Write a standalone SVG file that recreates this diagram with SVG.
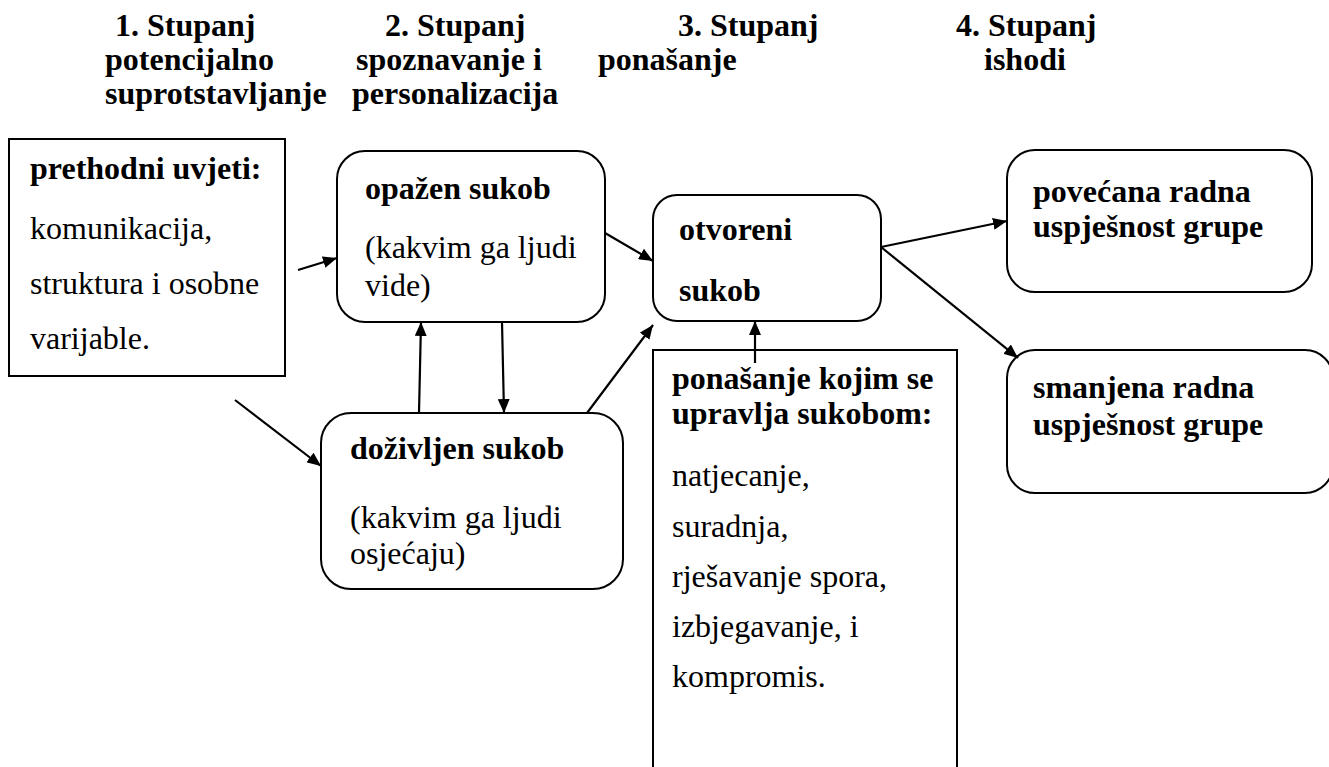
<svg xmlns="http://www.w3.org/2000/svg" width="1329" height="767" viewBox="0 0 1329 767">
<defs>
<style>
.t{font-family:'Liberation Serif','Times New Roman',serif;font-size:32px;fill:#000}
.b{font-weight:bold}
.box{fill:#fff;stroke:#000;stroke-width:2}
.c{stroke:#000;stroke-width:2.2;fill:none;marker-end:url(#ah)}
</style>
<marker id="ah" markerUnits="userSpaceOnUse" markerWidth="14" markerHeight="12" refX="14" refY="6" orient="auto">
<path d="M0,0 L14,6 L0,12 z" fill="#000"/>
</marker>
</defs>
<rect width="1329" height="767" fill="#fff"/>
<g id="header">
<text class="t b" x="115" y="36">1. Stupanj</text>
<text class="t b" x="105" y="70">potencijalno</text>
<text class="t b" x="105" y="104">suprotstavljanje</text>
<text class="t b" x="385" y="36">2. Stupanj</text>
<text class="t b" x="356" y="70">spoznavanje i</text>
<text class="t b" x="352" y="104">personalizacija</text>
<text class="t b" x="678" y="36">3. Stupanj</text>
<text class="t b" x="598" y="70">ponašanje</text>
<text class="t b" x="956" y="36">4. Stupanj</text>
<text class="t b" x="984" y="70">ishodi</text>
</g>
<g id="prethodni">
<rect class="box" x="9" y="139" width="276" height="237"/>
<text class="t b" x="30" y="179">prethodni uvjeti:</text>
<text class="t" x="30" y="239">komunikacija,</text>
<text class="t" x="30" y="294">struktura i osobne</text>
<text class="t" x="30" y="349">varijable.</text>
</g>
<g id="opazen">
<rect class="box" x="337" y="151" width="268" height="171" rx="28"/>
<text class="t b" x="365" y="199">opažen sukob</text>
<text class="t" x="365" y="258">(kakvim ga ljudi</text>
<text class="t" x="365" y="296">vide)</text>
</g>
<g id="dozivljen">
<rect class="box" x="321" y="413" width="302" height="176" rx="30"/>
<text class="t b" x="350" y="459">doživljen sukob</text>
<text class="t" x="350" y="528">(kakvim ga ljudi</text>
<text class="t" x="350" y="564">osjećaju)</text>
</g>
<g id="otvoreni">
<rect class="box" x="653" y="195" width="228" height="126" rx="24"/>
<text class="t b" x="679" y="240">otvoreni</text>
<text class="t b" x="679" y="301">sukob</text>
</g>
<g id="ponasanje">
<path class="box" d="M653,770 V350 H957 V770"/>
<text class="t b" x="672" y="389">ponašanje kojim se</text>
<text class="t b" x="672" y="424">upravlja sukobom:</text>
<text class="t" x="672" y="486">natjecanje,</text>
<text class="t" x="672" y="537">suradnja,</text>
<text class="t" x="672" y="587">rješavanje spora,</text>
<text class="t" x="672" y="637">izbjegavanje, i</text>
<text class="t" x="672" y="687">kompromis.</text>
</g>
<g id="povecana">
<rect class="box" x="1007" y="150" width="305" height="142" rx="28"/>
<text class="t b" x="1033" y="202">povećana radna</text>
<text class="t b" x="1033" y="237">uspješnost grupe</text>
</g>
<g id="smanjena">
<rect class="box" x="1007" y="350" width="326" height="143" rx="28"/>
<text class="t b" x="1033" y="398">smanjena radna</text>
<text class="t b" x="1033" y="435">uspješnost grupe</text>
</g>
<g id="connectors">
<line class="c" x1="298" y1="270" x2="337" y2="258"/>
<line class="c" x1="235" y1="400" x2="321" y2="466"/>
<line class="c" x1="419" y1="413" x2="421" y2="322"/>
<line class="c" x1="502" y1="322" x2="504" y2="413"/>
<line class="c" x1="587" y1="413" x2="653" y2="325"/>
<line class="c" x1="605" y1="233" x2="653" y2="261"/>
<line class="c" x1="755" y1="363" x2="755" y2="321"/>
<line class="c" x1="881" y1="247" x2="1007" y2="221"/>
<line class="c" x1="881" y1="247" x2="1018" y2="358"/>
</g>
</svg>
